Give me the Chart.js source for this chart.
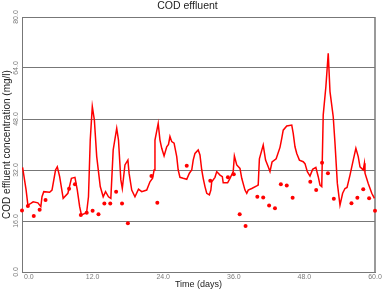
<!DOCTYPE html>
<html>
<head>
<meta charset="utf-8">
<script src="https://cdn.jsdelivr.net/npm/chart.js@4/dist/chart.umd.min.js"></script>
<style>
  html, body { margin: 0; padding: 0; background: #fff; }
  #wrap { width: 383px; height: 291px; }
</style>
</head>
<body>
<div id="wrap"><canvas id="codChart"></canvas></div>
<script>
// Simulated effluent COD (line)
const modelDays = [0.1, 0.7, 1.0, 1.5, 1.9, 2.7, 3.2, 3.4, 3.7, 4.7, 5.1, 5.7, 6.0, 6.4, 7.0, 7.8, 8.4, 9.0, 9.4, 9.8,
  10.1, 10.7, 11.0, 11.3, 11.6, 11.95, 12.3, 12.7, 13.3, 13.8, 14.2, 14.7, 15.1, 15.5, 16.1, 16.4, 16.8, 17.05, 17.5, 18.0,
  18.2, 18.65, 19.2, 19.8, 20.35, 21.2, 21.75, 22.2, 22.45, 22.6, 23.15, 23.45, 23.75, 24.15, 24.6, 24.9, 25.15, 25.45, 25.85, 26.3,
  26.55, 26.85, 27.4, 28.0, 28.45, 28.85, 29.1, 29.4, 29.95, 30.25, 30.55, 30.8, 31.1, 31.4, 31.85, 32.1, 32.25, 32.8, 33.1, 33.65,
  34.05, 34.2, 34.95, 35.35, 35.9, 36.1, 36.5, 37.05, 37.35, 37.9, 38.2, 38.45, 39.05, 39.9, 40.15, 40.35, 41.0, 41.4, 41.85, 42.15,
  42.5, 43.2, 43.85, 44.15, 44.4, 45.0, 45.85, 46.1, 46.4, 46.7, 47.15, 47.8, 48.1, 48.5, 48.95, 49.4, 49.95, 50.35, 50.65, 50.95,
  51.2, 51.65, 52.05, 52.35, 52.9, 53.2, 53.6, 54.05, 54.5, 54.9, 55.25, 55.75, 56.3, 56.75, 57.15, 57.45, 58.0, 58.2, 58.3, 58.85,
  59.45, 59.9];
const modelCOD = [32.8, 25.7, 21.0, 21.5, 22.0, 21.7, 20.5, 23.6, 25.2, 25.0, 25.7, 32.0, 33.0, 29.9, 23.1, 24.7, 29.4, 29.7, 25.7, 20.5,
  17.9, 18.4, 18.9, 23.6, 41.4, 51.9, 47.7, 36.2, 26.8, 23.6, 25.2, 23.6, 23.1, 38.3, 45.1, 41.4, 28.9, 26.2, 33.6, 35.1,
  31.0, 25.7, 23.6, 26.0, 25.2, 25.7, 28.3, 29.4, 32.0, 41.4, 46.6, 41.4, 38.8, 36.4, 39.3, 40.0, 42.5, 40.9, 40.4, 36.2,
  32.0, 29.7, 29.4, 29.1, 31.0, 32.0, 35.1, 37.2, 38.3, 36.7, 32.0, 29.4, 26.8, 24.7, 24.2, 25.7, 28.3, 29.7, 31.5, 30.4,
  29.9, 28.0, 28.0, 29.4, 31.5, 36.4, 33.6, 32.5, 29.4, 25.7, 24.7, 25.7, 26.2, 27.0, 27.3, 35.5, 39.8, 35.1, 33.0, 31.5,
  34.5, 35.5, 39.1, 41.9, 44.5, 45.8, 46.1, 43.5, 39.3, 37.2, 35.1, 34.6, 34.0, 31.5, 30.1, 32.2, 32.8, 29.9, 27.3, 26.8,
  49.3, 58.1, 68.6, 56.6, 48.7, 40.4, 27.8, 21.0, 24.7, 26.2, 26.5, 30.4, 35.1, 38.8, 36.2, 33.0, 32.0, 34.1, 31.0, 27.8,
  24.7, 23.1];

// Measured effluent COD (points)
const obsDays = [0, 1, 2, 3, 4, 8, 9, 10, 11, 12, 13, 14, 15, 16, 17, 18, 22, 23, 28, 32,
  35, 36, 37, 38, 40, 41, 42, 43, 44, 45, 46, 49, 50, 51, 52, 53, 56, 57, 58, 59, 60];
const obsCOD = [19.3, 20.7, 17.6, 19.5, 22.6, 26.1, 27.5, 17.9, 18.6, 19.2, 18.1, 21.5, 21.5, 25.2, 21.5, 15.3, 30.1, 21.7, 33.3, 28.6,
  29.7, 30.7, 18.1, 14.4, 23.6, 23.4, 20.9, 20.0, 27.5, 27.1, 23.3, 28.3, 25.7, 34.3, 31.0, 23.0, 21.6, 23.3, 26.0, 23.1, 19.2];

const xTicks = [0, 12, 24, 36, 48, 60];
const yTicks = [0, 16, 32, 48, 64, 80];

const tickFont = '7px "Liberation Sans", Arial, sans-serif';
const tickColor = "#7a7a7a";
const gridColor = "#777777";

// Tick labels drawn by hand: y labels are rotated, first x label sits inside the frame
const tickLabels = {
  id: "tickLabels",
  afterDraw(chart) {
    const { ctx, scales: { x, y } } = chart;
    ctx.save();
    ctx.fillStyle = tickColor;
    ctx.font = tickFont;
    ctx.textAlign = "center";
    ctx.textBaseline = "middle";
    yTicks.forEach((v) => {
      ctx.save();
      ctx.translate(y.right - 5.5, y.getPixelForValue(v));
      ctx.rotate(-Math.PI / 2);
      ctx.fillText(v.toFixed(1), 0, 0);
      ctx.restore();
    });
    ctx.textBaseline = "top";
    xTicks.forEach((v, i) => {
      const px = x.getPixelForValue(v);
      ctx.textAlign = i === 0 ? "left" : "center";
      ctx.fillText(v.toFixed(1), i === 0 ? px + 2 : px, x.top + 2);
    });
    ctx.restore();
  }
};

new Chart(document.getElementById("codChart"), {
  type: "line",
  data: {
    datasets: [
      {
        label: "Model",
        data: modelDays.map((d, i) => ({ x: d, y: modelCOD[i] })),
        borderColor: "#ff0000",
        borderWidth: 1.5,
        pointRadius: 0,
        tension: 0,
        fill: false
      },
      {
        label: "Measured",
        type: "scatter",
        data: obsDays.map((d, i) => ({ x: d, y: obsCOD[i] })),
        backgroundColor: "#ff0000",
        borderColor: "#ff0000",
        pointStyle: "circle",
        pointRadius: 2,
        borderWidth: 0,
        clip: false
      }
    ]
  },
  options: {
    responsive: true,
    maintainAspectRatio: false,
    animation: false,
    layout: { padding: { left: 0, right: 8, top: 0, bottom: 0 } },
    scales: {
      x: {
        type: "linear",
        min: 0,
        max: 60,
        afterBuildTicks: (scale) => { scale.ticks = xTicks.map((v) => ({ value: v })); },
        afterFit: (scale) => { scale.height = 19; },
        ticks: { display: false },
        grid: {
          drawTicks: false,
          color: (c) => (c.tick && c.tick.value === 60 ? "#9a9a9a" : "rgba(0,0,0,0)"),
          lineWidth: (c) => (c.tick && c.tick.value === 60 ? 2 : 1)
        },
        border: { color: gridColor, width: 1 },
        title: {
          display: true,
          text: "Time (days)",
          color: "#222",
          font: { family: '"Liberation Sans", Arial, sans-serif', size: 9 },
          padding: { top: 0, bottom: 1 }
        }
      },
      y: {
        type: "linear",
        min: 0,
        max: 80,
        afterBuildTicks: (scale) => { scale.ticks = yTicks.map((v) => ({ value: v })); },
        afterFit: (scale) => { scale.width = 22; },
        ticks: { display: false },
        grid: { drawTicks: false, color: gridColor, lineWidth: 1 },
        border: { color: gridColor, width: 1 },
        title: {
          display: true,
          text: "COD effluent concentration (mg/l)",
          color: "#222",
          font: { family: '"Liberation Sans", Arial, sans-serif', size: 10 },
          padding: { top: 1, bottom: 0 }
        }
      }
    },
    plugins: {
      legend: { display: false },
      tooltip: { enabled: false },
      title: {
        display: true,
        text: "COD effluent",
        color: "#222",
        font: { family: '"Liberation Sans", Arial, sans-serif', size: 10.5, weight: "normal" },
        padding: { top: 0, bottom: 4.4 }
      }
    }
  },
  plugins: [tickLabels]
});
</script>
</body>
</html>
